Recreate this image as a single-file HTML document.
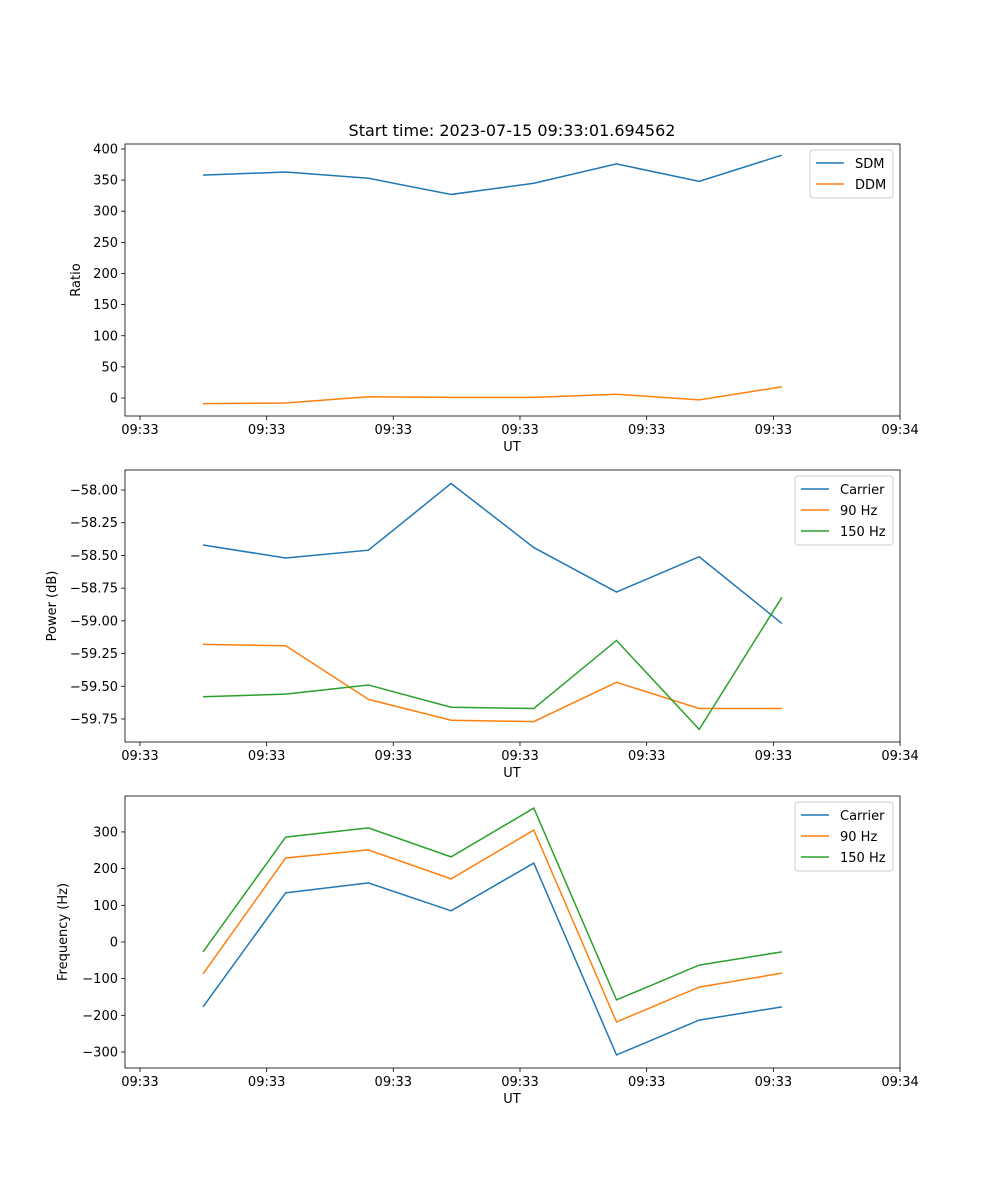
<!DOCTYPE html>
<html><head><meta charset="utf-8"><style>
body{margin:0;background:#fff}
svg{display:block;font-family:"DejaVu Sans","Liberation Sans",sans-serif}
</style></head><body>
<svg id="fig" width="1000" height="1200" viewBox="0 0 1000 1200"></svg>
<script>
const times=[0,1,2,3,4,5,6,7];
const xTickVals=[-0.762,0.770,2.301,3.833,5.365,6.897,8.429];
const xTickLabels=["09:33","09:33","09:33","09:33","09:33","09:33","09:34"];
const sdm=[358,363,353,327,345,376,348,390];
const ddm=[-9,-8,2,1,1,6,-3,18];
const powCarrier=[-58.42,-58.52,-58.46,-57.95,-58.44,-58.78,-58.51,-59.02];
const pow90=[-59.18,-59.19,-59.60,-59.76,-59.77,-59.47,-59.67,-59.67];
const pow150=[-59.58,-59.56,-59.49,-59.66,-59.67,-59.15,-59.83,-58.82];
const frqCarrier=[-177,134,161,85,215,-308,-213,-177];
const frq90=[-87,229,251,172,305,-218,-123,-85];
const frq150=[-27,286,311,232,365,-158,-63,-27];
const ticks1=[0,50,100,150,200,250,300,350,400];
const ticks2=[-59.75,-59.5,-59.25,-59.0,-58.75,-58.5,-58.25,-58.0];
const ticks3=[-300,-200,-100,0,100,200,300];
const C=["#1f77b4","#ff7f0e","#2ca02c"];
const svg=document.getElementById('fig');
const NS="http://www.w3.org/2000/svg";
function mk(t,a,p){const e=document.createElementNS(NS,t);for(const k in a)e.setAttribute(k,a[k]);(p||svg).appendChild(e);return e;}
const L=125,R=900,xmin=-0.943,xmax=8.428;
const xs=v=>L+(v-xmin)/(xmax-xmin)*(R-L);
function panel(name,top,ymin,ymax,yt,fmt,ylabel,series,legend,legW){
  const bot=top+272;
  const g=mk('g',{});
  
  
  const ys=v=>bot-(v-ymin)/(ymax-ymin)*272;
  series.forEach((s,i)=>{
    const p=mk('polyline',{points:s.v.map((v,j)=>xs(times[j])+','+ys(v)).join(' '),fill:'none',stroke:C[i],'stroke-width':1.5},g);
    
    
  });
  mk('rect',{x:L,y:top,width:R-L,height:272,fill:'none',stroke:'#000','stroke-width':0.8},g);
  xTickVals.forEach((v,i)=>{const x=xs(v);mk('line',{x1:x,x2:x,y1:bot,y2:bot+4,stroke:'#000','stroke-width':0.8},g);
    const t=mk('text',{x:x,y:bot+18,'font-size':13,'text-anchor':'middle'},g);t.textContent=xTickLabels[i];});
  yt.forEach(v=>{const y=ys(v);mk('line',{x1:L-4,x2:L,y1:y,y2:y,stroke:'#000','stroke-width':0.8},g);
    const t=mk('text',{x:L-7,y:y+4.5,'font-size':13,'text-anchor':'end'},g);t.textContent=fmt(v);});
  const xl=mk('text',{x:512,y:bot+35,'font-size':13,'text-anchor':'middle'},g);xl.textContent='UT';
  
  const yl=mk('text',{x:0,y:0,'font-size':13,'text-anchor':'middle',transform:`translate(${legend.yl},${top+136}) rotate(-90)`},g);yl.textContent=ylabel;
  
  const lg=mk('g',{},g);
  
  const lx=893-legW,ly=top+6,h=series.length*21+6;
  mk('rect',{x:lx,y:ly,width:legW,height:h,rx:3,fill:'#fff','fill-opacity':0.8,stroke:'#ccc'},lg);
  series.forEach((s,i)=>{const y=ly+13+i*21;
    mk('line',{x1:lx+6,x2:lx+34,y1:y,y2:y,stroke:C[i],'stroke-width':1.5},lg);
    const t=mk('text',{x:lx+45,y:y+5,'font-size':13},lg);t.textContent=s.n;});
}
const tt=mk('text',{x:512,y:136,'font-size':16,'text-anchor':'middle'});tt.textContent='Start time: 2023-07-15 09:33:01.694562';

panel('ratio-panel',144,-28.9,408,ticks1,v=>String(v),'Ratio',[{n:'SDM',v:sdm},{n:'DDM',v:ddm}],{yl:80},83);
panel('power-panel',470,-59.926,-57.847,ticks2,v=>'\u2212'+Math.abs(v).toFixed(2),'Power (dB)',[{n:'Carrier',v:powCarrier},{n:'90 Hz',v:pow90},{n:'150 Hz',v:pow150}],{yl:56},98);
panel('frequency-panel',796,-343.6,398,ticks3,v=>v<0?'\u2212'+Math.abs(v):String(v),'Frequency (Hz)',[{n:'Carrier',v:frqCarrier},{n:'90 Hz',v:frq90},{n:'150 Hz',v:frq150}],{yl:67},98);
</script>
</body></html>
